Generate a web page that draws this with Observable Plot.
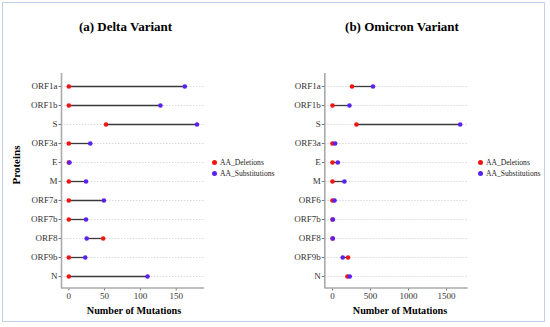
<!DOCTYPE html>
<html>
<head>
<meta charset="utf-8">
<script src="https://cdn.jsdelivr.net/npm/d3@7"></script>
<script src="https://cdn.jsdelivr.net/npm/@observablehq/plot@0.6"></script>
<style>
  html, body { margin: 0; padding: 0; background: #fff; }
  #wrap { position: relative; width: 550px; height: 327px; font-family: "Liberation Serif", "Tinos", "Times New Roman", serif; overflow: hidden; }
  #frame { position: absolute; left: 2px; top: 2px; width: 543px; height: 320px; border: 1.5px solid #c3d1ea; box-sizing: border-box; }
  .panel { position: absolute; top: 0; }
  .panel text { font-family: "Liberation Serif", "Tinos", "Times New Roman", serif; }
  .title { position: absolute; font-weight: bold; font-size: 13px; color: #000; white-space: nowrap; transform: translate(-50%, -50%); }
  .xlab { position: absolute; font-weight: bold; font-size: 10.2px; color: #000; white-space: nowrap; transform: translate(-50%, -50%); }
  .ylab { position: absolute; font-weight: bold; font-size: 11px; color: #000; white-space: nowrap; transform: translate(-50%, -50%) rotate(-90deg); }
  .legend { position: absolute; font-size: 7.6px; color: #222; line-height: 11px; }
  .legend div { display: flex; align-items: center; white-space: nowrap; }
  .legend span.sw { display: inline-block; width: 5px; height: 5px; border-radius: 50%; margin-right: 3px; }
</style>
</head>
<body>
<div id="wrap">
  <div id="frame"></div>
</div>
<script>
const deltaProteins = ["ORF1a","ORF1b","S","ORF3a","E","M","ORF7a","ORF7b","ORF8","ORF9b","N"];
const deltaDeletions = [0,0,52,0,0,0,0,0,48,0,0];
const deltaSubstitutions = [162,128,179,30,1,24,49,24,25,23,110];
const deltaTicks = [0,50,100,150];

const omicronProteins = ["ORF1a","ORF1b","S","ORF3a","E","M","ORF6","ORF7b","ORF8","ORF9b","N"];
const omicronDeletions = [257,0,315,0,0,0,0,0,0,205,197];
const omicronSubstitutions = [533,223,1680,35,70,157,27,5,5,135,227];
const omicronTicks = [0,500,1000,1500];

const seriesNames = ["AA_Deletions","AA_Substitutions"];
const colors = ["#f01414","#5a22ee"];
const serif = "'Liberation Serif', 'Tinos', 'Times New Roman', serif";

function rows(prot, del, sub) {
  return prot.map((p, i) => ({protein: p, del: del[i], sub: sub[i]}));
}

function panel(prot, del, sub, ticks, xdomain, left, mLeft, mRight) {
  const data = rows(prot, del, sub);
  const plot = Plot.plot({
    width: 275,
    height: 327,
    marginTop: 73,
    marginBottom: 39,
    marginLeft: mLeft,
    marginRight: mRight,
    style: {fontFamily: serif, fontSize: "9px", color: "#333", background: "transparent"},
    x: {domain: xdomain, label: null},
    y: {type: "point", domain: prot, padding: 0.55, label: null},
    marks: [
      Plot.ruleY(prot, {stroke: "#d0d0d0", strokeWidth: 0.8, strokeDasharray: "1.5,1.5"}),
      Plot.ruleX([xdomain[0]], {stroke: "#aaa", strokeWidth: 1.6}),
      Plot.link(data, {x1: "del", x2: "sub", y1: "protein", y2: "protein", stroke: "#3a3a3a", strokeWidth: 1.3}),
      Plot.dot(data, {x: "del", y: "protein", r: 2.3, fill: colors[0]}),
      Plot.dot(data, {x: "sub", y: "protein", r: 2.3, fill: colors[1]}),
      Plot.axisX({ticks: ticks, tickFormat: d3.format("d"), tickSize: 2.5, tickPadding: 1.5, stroke: "#777", fill: "#333", label: null}),
      Plot.axisY({tickSize: 2.5, tickPadding: 1.5, stroke: "#777", fill: "#333", label: null})
    ]
  });
  plot.classList.add("panel");
  plot.style.left = left + "px";
  return plot;
}

const wrap = document.getElementById("wrap");
const p1 = panel(deltaProteins, deltaDeletions, deltaSubstitutions, deltaTicks, [-10.2, 189.5], 0, 61, 71);
const p2 = panel(omicronProteins, omicronDeletions, omicronSubstitutions, omicronTicks, [-101, 1785], 275, 49.3, 82.3);
wrap.appendChild(p1);
wrap.appendChild(p2);

function addBottom(plot, mLeft, mRight) {
  const ns = "http://www.w3.org/2000/svg";
  const l = document.createElementNS(ns, "line");
  l.setAttribute("x1", mLeft); l.setAttribute("x2", 275 - mRight);
  l.setAttribute("y1", 288); l.setAttribute("y2", 288);
  l.setAttribute("stroke", "#aaa"); l.setAttribute("stroke-width", 1.6);
  plot.appendChild(l);
}
addBottom(p1, 61, 71);
addBottom(p2, 49.3, 82.3);

function addText(cls, text, x, y) {
  const d = document.createElement("div");
  d.className = cls; d.textContent = text;
  d.style.left = x + "px"; d.style.top = y + "px";
  wrap.appendChild(d);
}
addText("title", "(a) Delta Variant", 125.5, 27);
addText("title", "(b) Omicron Variant", 402, 27);
addText("xlab", "Number of Mutations", 134, 310);
addText("xlab", "Number of Mutations", 400, 310);
addText("ylab", "Proteins", 16, 165);

function addLegend(x, y) {
  const lg = document.createElement("div");
  lg.className = "legend";
  lg.style.left = x + "px"; lg.style.top = y + "px";
  seriesNames.forEach((n, i) => {
    const r = document.createElement("div");
    const s = document.createElement("span");
    s.className = "sw"; s.style.background = colors[i];
    r.appendChild(s);
    r.appendChild(document.createTextNode(n));
    lg.appendChild(r);
  });
  wrap.appendChild(lg);
}
addLegend(212, 157);
addLegend(478, 157);
</script>
</body>
</html>
